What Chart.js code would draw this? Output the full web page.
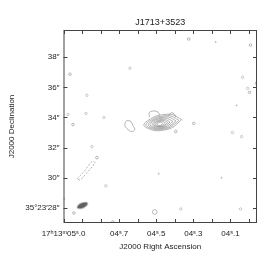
<!DOCTYPE html>
<html>
<head>
<meta charset="utf-8">
<script src="https://cdn.jsdelivr.net/npm/chart.js@4"></script>
<style>
  body { margin: 0; background: #fff; }
  canvas { display: block; }
</style>
</head>
<body>
<canvas id="map" width="275" height="263"></canvas>
<script>
// axis ticks (RA in seconds of 17h13m, Dec in arcsec of 35d23m)
const raTicks = [5.0, 4.9, 4.8, 4.7, 4.6, 4.5, 4.4, 4.3, 4.2, 4.1, 4.0];
const raLabels = ["17ʰ13ᵐ05ˢ.0", "", "", "04ˢ.7", "", "04ˢ.5", "", "04ˢ.3", "", "04ˢ.1", ""];
const decTicks = [28, 30, 32, 34, 36, 38];
const decLabels = ["35°23′28″", "30″", "32″", "34″", "36″", "38″"];

// central source contours, outer to inner, [RA s, Dec "]
const sourceContours = [
  [[4.363, 33.850], [4.414, 34.190], [4.465, 34.180], [4.516, 34.010], [4.567, 33.496], [4.516, 33.150], [4.465, 33.150], [4.414, 33.330], [4.363, 33.850]],
  [[4.378, 33.810], [4.423, 34.100], [4.467, 34.090], [4.511, 33.945], [4.556, 33.505], [4.511, 33.210], [4.467, 33.215], [4.423, 33.365], [4.378, 33.810]],
  [[4.394, 33.766], [4.431, 34.020], [4.469, 34.010], [4.507, 33.890], [4.544, 33.514], [4.507, 33.265], [4.469, 33.270], [4.431, 33.395], [4.394, 33.766]],
  [[4.410, 33.730], [4.441, 33.945], [4.472, 33.940], [4.503, 33.840], [4.534, 33.524], [4.503, 33.310], [4.472, 33.315], [4.441, 33.420], [4.410, 33.730]],
  [[4.426, 33.694], [4.450, 33.870], [4.474, 33.866], [4.498, 33.786], [4.522, 33.532], [4.498, 33.356], [4.474, 33.360], [4.450, 33.440], [4.426, 33.694]],
  [[4.438, 33.663], [4.457, 33.802], [4.476, 33.800], [4.495, 33.738], [4.514, 33.537], [4.495, 33.398], [4.476, 33.400], [4.457, 33.462], [4.438, 33.663]],
  [[4.451, 33.632], [4.465, 33.740], [4.478, 33.740], [4.491, 33.694], [4.505, 33.542], [4.491, 33.434], [4.478, 33.434], [4.465, 33.480], [4.451, 33.632]],
  [[4.464, 33.600], [4.472, 33.672], [4.480, 33.673], [4.488, 33.645], [4.496, 33.546], [4.488, 33.474], [4.480, 33.473], [4.472, 33.501], [4.464, 33.600]]
];

// extra solid contours (bumps on the source, loop to the west)
const bumpWest = [[4.537, 34.020], [4.537, 34.333], [4.513, 34.433], [4.492, 34.367], [4.481, 34.170]];
const bumpEast = [[4.433, 34.120], [4.422, 34.300], [4.406, 34.267], [4.395, 34.020]];
const kidneyLoop = [[4.659, 33.800], [4.637, 33.733], [4.626, 33.467], [4.616, 33.200], [4.632, 33.067], [4.653, 33.200], [4.669, 33.467], [4.664, 33.733], [4.659, 33.800]];

// negative (dashed) elongated contour in the south-east
const negStreak = [[4.927, 29.933], [4.890, 30.400], [4.847, 31.067], [4.831, 31.000], [4.874, 30.333], [4.911, 29.867], [4.927, 29.933]];

// small noise islands
const posSmall = [[4.325, 39.2], [4.965, 36.867], [4.949, 33.533], [4.820, 31.333], [4.298, 33.6], [4.395, 33.067],
  [4.944, 27.667], [4.734, 27.067], [3.997, 35.667], [3.960, 36.267], [3.992, 38.8]];
const posLarge = [[4.508, 27.733]];
const posTiny = [[4.180, 39.0], [4.067, 34.8], [4.487, 30.267], [4.148, 30.0], [4.997, 28.6]];
const negSmall = [[4.035, 36.667], [4.008, 35.933], [4.874, 35.467], [4.879, 34.267], [4.976, 34.2], [4.782, 34.0],
  [4.089, 33.0], [4.040, 32.733], [4.847, 32.067], [4.772, 29.467], [4.368, 27.933], [4.046, 27.933], [4.642, 37.267]];

// restoring beam
const beamPos = [[4.898, 28.167]];

const toXY = pts => pts.map(p => ({ x: p[0], y: p[1] }));
const lineColor = "#808080";

function lineSet(pts, dash) {
  return {
    data: toXY(pts), showLine: true, pointRadius: 0, borderColor: lineColor,
    borderWidth: 0.6, tension: 0.35, borderDash: dash || [], fill: false
  };
}
function blobSet(pts, r, color) {
  return {
    data: toXY(pts), showLine: false, pointRadius: r, pointStyle: "circle",
    pointBorderColor: color, pointBackgroundColor: "rgba(0,0,0,0)", pointBorderWidth: 0.6
  };
}

// beam marker: filled tilted ellipse
let beamImg = document.createElement("canvas");
beamImg.width = 14; beamImg.height = 10;
let bctx = beamImg.getContext("2d");
bctx.fillStyle = "#606060";
bctx.beginPath();
bctx.ellipse(7, 5, 5.8, 2.6, -0.4, 0, Math.PI * 2);
bctx.fill();

let datasets = [];
sourceContours.forEach(c => datasets.push(lineSet(c)));
datasets.push(lineSet(bumpWest));
datasets.push(lineSet(bumpEast));
datasets.push(lineSet(kidneyLoop));
datasets.push(lineSet(negStreak, [2, 1.5]));
datasets.push(blobSet(posSmall, 1.3, "#8a8a8a"));
datasets.push(blobSet(posLarge, 2.3, "#8a8a8a"));
datasets.push(blobSet(posTiny, 0.6, "#999"));
datasets.push(blobSet(negSmall, 1.2, "#a8a8a8"));
datasets.push({ data: toXY(beamPos), showLine: false, pointStyle: beamImg, pointRadius: 6 });

// frame, inward ticks and titles
const framePlugin = {
  id: "frame",
  afterDraw(chart) {
    let ctx = chart.ctx, a = chart.chartArea;
    let xs = chart.scales.x, ys = chart.scales.y;
    ctx.save();
    ctx.strokeStyle = "#444";
    ctx.lineWidth = 1;
    ctx.strokeRect(a.left + 0.5, a.top + 0.5, a.right - a.left - 1, a.bottom - a.top - 1);
    ctx.beginPath();
    raTicks.forEach(v => {
      let x = Math.round(xs.getPixelForValue(v)) + 0.5;
      ctx.moveTo(x, a.top); ctx.lineTo(x, a.top + 4);
      ctx.moveTo(x, a.bottom); ctx.lineTo(x, a.bottom - 4);
    });
    decTicks.forEach(v => {
      let y = Math.round(ys.getPixelForValue(v)) + 0.5;
      ctx.moveTo(a.left, y); ctx.lineTo(a.left + 4, y);
      ctx.moveTo(a.right, y); ctx.lineTo(a.right - 4, y);
    });
    ctx.stroke();

    ctx.fillStyle = "#222";
    ctx.textAlign = "center";
    ctx.textBaseline = "middle";
    ctx.font = "9px 'Liberation Sans', sans-serif";
    ctx.fillText("J1713+3523", (a.left + a.right) / 2, 23);
    ctx.font = "8px 'Liberation Sans', sans-serif";
    ctx.fillText("J2000 Right Ascension", (a.left + a.right) / 2, 247);
    ctx.translate(12, (a.top + a.bottom) / 2);
    ctx.rotate(-Math.PI / 2);
    ctx.fillText("J2000 Declination", 0, 0);
    ctx.restore();
  }
};

new Chart(document.getElementById("map"), {
  type: "scatter",
  data: { datasets: datasets },
  options: {
    responsive: false,
    animation: false,
    layout: { padding: { top: 30, right: 18, left: 0, bottom: 0 } },
    plugins: { legend: { display: false }, tooltip: { enabled: false } },
    scales: {
      x: {
        type: "linear", reverse: true, min: 3.957, max: 5.0,
        afterFit: s => { s.height = 40; },
        afterBuildTicks: s => { s.ticks = raTicks.map(v => ({ value: v })); },
        grid: { display: false, drawTicks: false },
        border: { display: false },
        ticks: {
          autoSkip: false, maxRotation: 0, minRotation: 0, padding: 6, color: "#222",
          font: { family: "'Liberation Sans', sans-serif", size: 8 },
          callback: (v, i) => raLabels[i]
        }
      },
      y: {
        type: "linear", min: 27.0, max: 39.8,
        afterFit: s => { s.width = 63.5; },
        afterBuildTicks: s => { s.ticks = decTicks.map(v => ({ value: v })); },
        grid: { display: false, drawTicks: false },
        border: { display: false },
        ticks: {
          autoSkip: false, padding: 4, color: "#222",
          font: { family: "'Liberation Sans', sans-serif", size: 8 },
          callback: (v, i) => decLabels[i]
        }
      }
    }
  },
  plugins: [framePlugin]
});
</script>
</body>
</html>
